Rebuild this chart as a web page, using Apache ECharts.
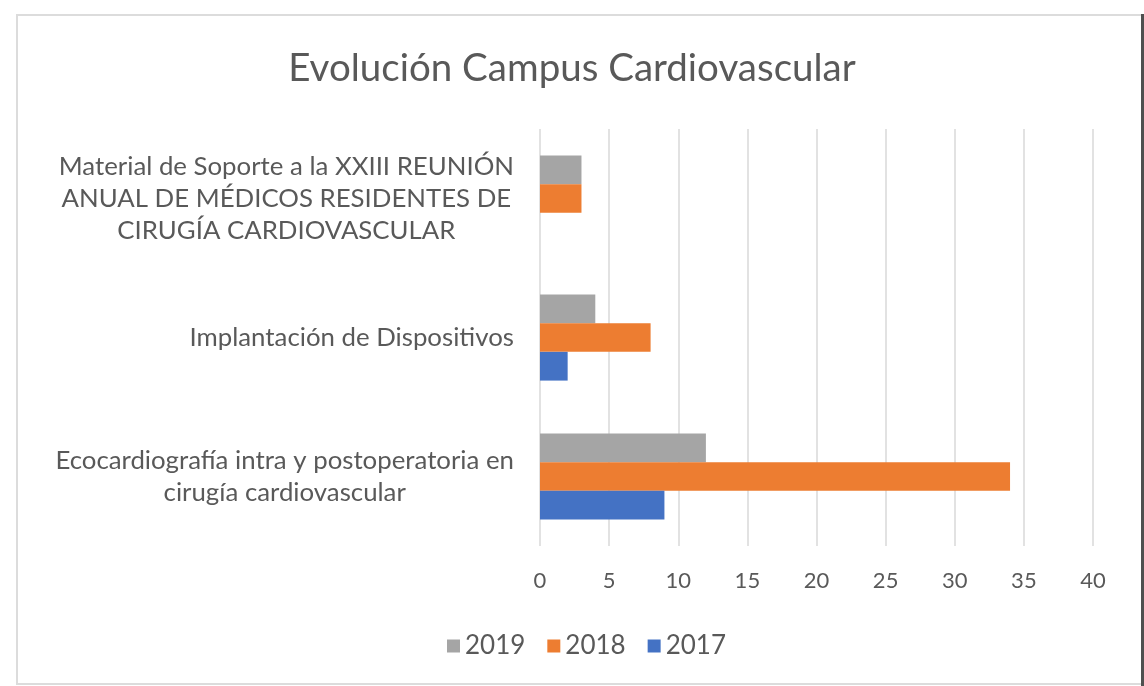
<!DOCTYPE html>
<html>
<head>
<meta charset="utf-8">
<script src="https://cdn.jsdelivr.net/npm/echarts@6/dist/echarts.min.js"></script>
<style>
html,body{margin:0;padding:0;background:#fff;width:1144px;height:686px;overflow:hidden;}
#frame{position:absolute;left:16px;top:14px;width:1123px;height:667px;border:2px solid #dcdcdc;box-sizing:content-box;}
#edge{position:absolute;left:1141px;top:14px;width:3px;height:672px;background:#4f4f4f;}
#chart{position:absolute;left:0;top:0;width:1144px;height:686px;}
</style>
</head>
<body>
<div id="frame"></div>
<div id="edge"></div>
<div id="chart"></div>
<script>
const titleText = 'Evolución Campus Cardiovascular';
const categories = [
  'Ecocardiografía intra y postoperatoria en\ncirugía cardiovascular',
  'Implantación de Dispositivos',
  'Material de Soporte a la XXIII REUNIÓN\nANUAL DE MÉDICOS RESIDENTES DE\nCIRUGÍA CARDIOVASCULAR'
];
const seriesNames = ['2019', '2018', '2017'];
const values2019 = [12, 4, 3];
const values2018 = [34, 8, 3];
const values2017 = [9, 2, 0];
const xTicks = [0, 40, 5]; // min, max, interval

const FONT = 'Lato, "Open Sans", sans-serif';
const TXT = '#595959';
const colors = ['#a5a5a5', '#ed7d31', '#4472c4'];

const chart = echarts.init(document.getElementById('chart'), null, {renderer: 'canvas'});
const dataSets = [values2019, values2018, values2017];

chart.setOption({
  animation: false,
  title: {
    text: titleText,
    left: 'center',
    top: 44,
    textStyle: {fontFamily: FONT, fontSize: 38.5, fontWeight: 'normal', color: TXT}
  },
  legend: {
    data: seriesNames,
    left: 447,
    top: 633,
    padding: 0,
    itemWidth: 13,
    itemHeight: 13,
    itemGap: 22,
    icon: 'rect',
    textStyle: {fontFamily: FONT, fontSize: 26, color: TXT}
  },
  grid: {left: 540, right: 51, top: 129, bottom: 140, containLabel: false},
  xAxis: {
    type: 'value',
    min: xTicks[0], max: xTicks[1], interval: xTicks[2],
    axisLine: {show: false},
    axisTick: {show: false},
    splitLine: {lineStyle: {color: '#d9d9d9', width: 1.5}},
    axisLabel: {fontFamily: FONT, fontSize: 22, color: TXT, margin: 24}
  },
  yAxis: {
    type: 'category',
    data: categories,
    axisLine: {show: false},
    axisTick: {show: false},
    axisLabel: {
      margin: 26,
      align: 'right',
      formatter: function (v) {
        return v.split('\n').map(function (l) { return '{c|' + l + '}'; }).join('\n');
      },
      rich: {c: {align: 'center', fontFamily: FONT, fontSize: 25.8, lineHeight: 32, color: TXT}}
    }
  },
  series: seriesNames.map(function (n, i) {
    return {
      name: n,
      type: 'bar',
      data: dataSets[i],
      itemStyle: {color: colors[i]},
      barGap: '0%',
      barCategoryGap: '38%'
    };
  })
});
</script>
</body>
</html>
